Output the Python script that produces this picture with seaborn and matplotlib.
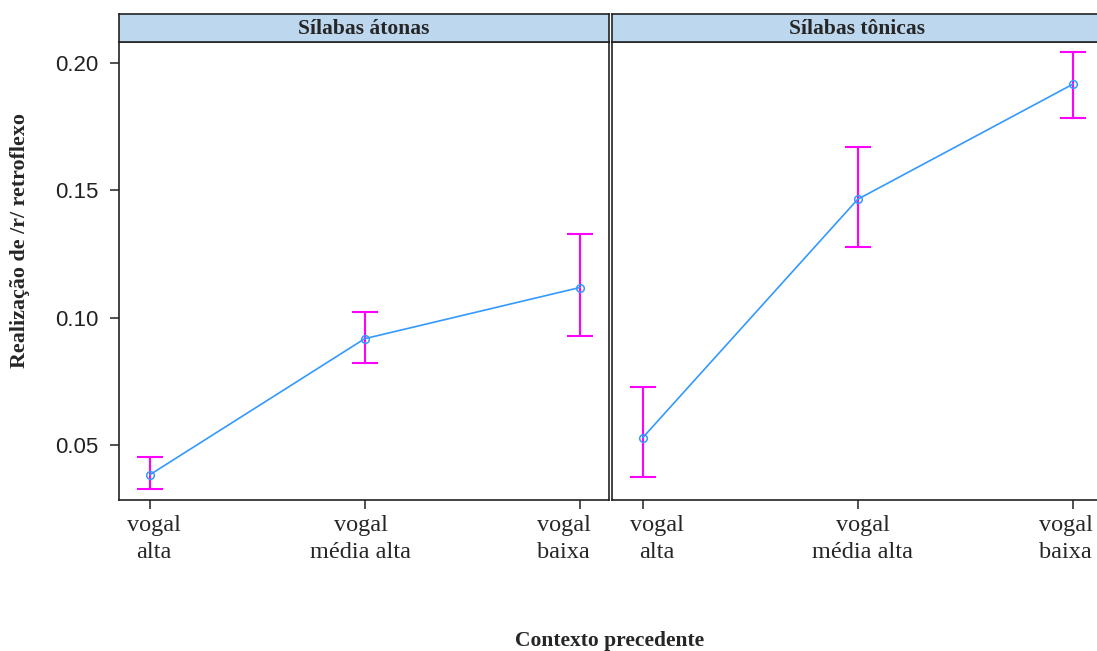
import matplotlib
matplotlib.use("Agg")
import matplotlib.pyplot as plt
import matplotlib.transforms as mtransforms
import seaborn as sns
import pandas as pd
import numpy as np

# ---- data ----
categories = ["vogal\nalta", "vogal\nmédia alta", "vogal\nbaixa"]
panels = ["Sílabas átonas", "Sílabas tônicas"]
fit_atonas = [0.0382, 0.0917, 0.1118]
lower_atonas = [0.0327, 0.0823, 0.0929]
upper_atonas = [0.0453, 0.1020, 0.1327]
fit_tonicas = [0.0528, 0.1465, 0.1917]
lower_tonicas = [0.0374, 0.1276, 0.1783]
upper_tonicas = [0.0728, 0.1669, 0.2043]
y_ticks = [0.05, 0.10, 0.15, 0.20]
y_ticklabels = ["0.05", "0.10", "0.15", "0.20"]

sns.set_style("white")
serif = ["Liberation Serif", "DejaVu Serif"]
sans = ["Liberation Sans", "DejaVu Sans"]

LINE_C = "#3399ff"
ERR_C = "#ff00ff"
STRIP_C = "#bdd7ee"

fig = plt.figure(figsize=(10.97, 6.51), dpi=100)
W, H = 1097.0, 651.0

def fx(px):
    return px / W

def fy(py):
    return 1 - py / H

panel_top, panel_bot = 42, 500
strip_top = 14
lefts = [119, 612]
width_px = 490
# horizontal nudges (pixels) of tick labels as placed in the reference
label_shift = [[4, -4, -16], [14, 5, -7]]

series = [(fit_atonas, lower_atonas, upper_atonas), (fit_tonicas, lower_tonicas, upper_tonicas)]

for i, (name, (fit, lo, hi)) in enumerate(zip(panels, series)):
    ax = fig.add_axes([fx(lefts[i]), fy(panel_bot), width_px / W, (panel_bot - panel_top) / H])
    df = pd.DataFrame({"x": np.arange(len(categories)), "fit": fit})
    ax.errorbar(df["x"], fit, yerr=[np.array(fit) - np.array(lo), np.array(hi) - np.array(fit)],
                fmt="none", ecolor=ERR_C, elinewidth=1.5, capsize=9.5, capthick=1.5, zorder=2)
    sns.lineplot(data=df, x="x", y="fit", ax=ax, color=LINE_C, linewidth=1.2,
                 marker="o", markersize=5.5, markerfacecolor="none",
                 markeredgecolor=LINE_C, markeredgewidth=1.1, zorder=3)
    ax.set_xlim(-0.143, 2.136)
    ax.set_ylim(0.0283, 0.2083)
    ax.set_xticks(range(len(categories)))
    ax.set_xticklabels(categories, fontsize=17.5, family=serif, linespacing=1.42)
    ax.tick_params(axis="x", direction="out", length=6.5, width=1.2, color="#333333", pad=4, bottom=True)
    for lab, dx in zip(ax.get_xticklabels(), label_shift[i]):
        lab.set_transform(lab.get_transform() + mtransforms.ScaledTranslation(dx / 100.0, 0, fig.dpi_scale_trans))
    ax.set_yticks(y_ticks)
    if i == 0:
        ax.set_yticklabels(y_ticklabels, fontsize=16, family=sans, color="#222222")
        ax.tick_params(axis="y", direction="out", length=6.5, width=1.2, color="#333333", pad=8, left=True)
    else:
        ax.tick_params(axis="y", left=False, labelleft=False)
    ax.set_xlabel("")
    ax.set_ylabel("")
    for s in ax.spines.values():
        s.set_color("#222222")
        s.set_linewidth(1.2)
    # strip
    sax = fig.add_axes([fx(lefts[i]), fy(panel_top), width_px / W, (panel_top - strip_top) / H])
    sax.set_facecolor(STRIP_C)
    sax.set_xticks([])
    sax.set_yticks([])
    for s in sax.spines.values():
        s.set_color("#222222")
        s.set_linewidth(1.2)
    sax.text(0.5, 0.45, name, ha="center", va="center", fontsize=15.5, fontweight="bold",
             family=serif, transform=sax.transAxes)

fig.text(fx(20), fy(240), "Realização de /r/ retroflexo", rotation=90, ha="center", va="center",
         fontsize=15.8, fontweight="bold", family=serif)
fig.text(fx(610), fy(641), "Contexto precedente", ha="center", va="center",
         fontsize=15.5, fontweight="bold", family=serif)

fig.savefig("out.png", dpi=100)
